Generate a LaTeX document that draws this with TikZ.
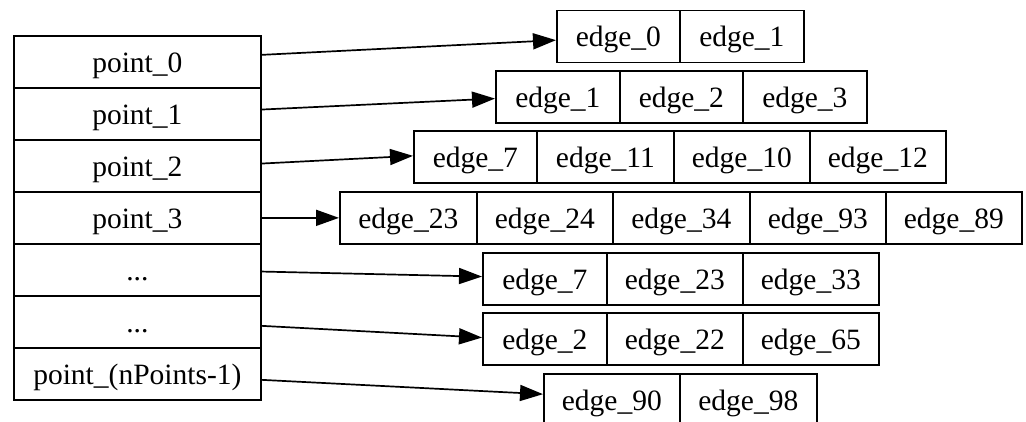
\documentclass[tikz,border=0pt]{standalone}
\usepackage{fontspec}
\setmainfont{Liberation Serif}
\usetikzlibrary{arrows.meta}

\tikzset{
  cell/.style={draw, line width=1.7pt, anchor=north west, minimum height=52pt,
               inner sep=0pt, text height=21pt, text depth=0pt},
  pcell/.style={cell, minimum width=247pt},
  link/.style={line width=1.7pt, -{Triangle[length=23pt,width=16pt]}}
}

\begin{document}
\begin{tikzpicture}[x=1pt, y=-1pt, font=\fontsize{29.5pt}{34pt}\selectfont]
  \useasboundingbox (0,0) rectangle (1026,421);
  \clip (0,0) rectangle (1026,421);

  % point table
  \node[pcell] (p0) at (13,35)  {point\_0};
  \node[pcell] (p1) at (13,87)  {point\_1};
  \node[pcell] (p2) at (13,139) {point\_2};
  \node[pcell] (p3) at (13,191) {point\_3};
  \node[pcell] (p4) at (13,243) {...};
  \node[pcell] (p5) at (13,295) {...};
  \node[pcell] (p6) at (13,347) {point\_(nPoints-1)};

  % edge lists
  \node[cell, minimum width=123pt] (e00) at (556,9.5) {edge\_0};
  \node[cell, minimum width=124pt] (e01) at (679,9.5) {edge\_1};

  \node[cell, minimum width=124pt] (e10) at (495,70) {edge\_1};
  \node[cell, minimum width=123pt] (e11) at (619,70) {edge\_2};
  \node[cell, minimum width=124pt] (e12) at (742,70) {edge\_3};

  \node[cell, minimum width=123pt] (e20) at (413,130) {edge\_7};
  \node[cell, minimum width=137pt] (e21) at (536,130) {edge\_11};
  \node[cell, minimum width=136pt] (e22) at (673,130) {edge\_10};
  \node[cell, minimum width=136pt] (e23) at (809,130) {edge\_12};

  \node[cell, minimum width=137pt] (e30) at (339,191) {edge\_23};
  \node[cell, minimum width=136pt] (e31) at (476,191) {edge\_24};
  \node[cell, minimum width=137pt] (e32) at (612,191) {edge\_34};
  \node[cell, minimum width=136pt] (e33) at (749,191) {edge\_93};
  \node[cell, minimum width=136pt] (e34) at (885,191) {edge\_89};

  \node[cell, minimum width=124pt] (e40) at (482,252) {edge\_7};
  \node[cell, minimum width=136pt] (e41) at (606,252) {edge\_23};
  \node[cell, minimum width=136pt] (e42) at (742,252) {edge\_33};

  \node[cell, minimum width=124pt] (e50) at (482,312) {edge\_2};
  \node[cell, minimum width=136pt] (e51) at (606,312) {edge\_22};
  \node[cell, minimum width=136pt] (e52) at (742,312) {edge\_65};

  \node[cell, minimum width=136pt] (e60) at (543,373) {edge\_90};
  \node[cell, minimum width=137pt] (e61) at (679,373) {edge\_98};

  % pointers from each point to its edge list
  \draw[link] ([yshift=7pt]p0.east)    -- ([yshift=-3.8pt]e00.west);
  \draw[link] ([yshift=4.3pt]p1.east)  -- ([yshift=-1.7pt]e10.west);
  \draw[link] ([yshift=2.3pt]p2.east)  -- ([yshift=1pt]e20.west);
  \draw[link] (p3.east)                -- (e30.west);
  \draw[link] ([yshift=-1.7pt]p4.east) -- ([yshift=2.3pt]e40.west);
  \draw[link] ([yshift=-4pt]p5.east)   -- ([yshift=1.3pt]e50.west);
  \draw[link] ([yshift=-6pt]p6.east)   -- ([yshift=5.7pt]e60.west);
\end{tikzpicture}
\end{document}
